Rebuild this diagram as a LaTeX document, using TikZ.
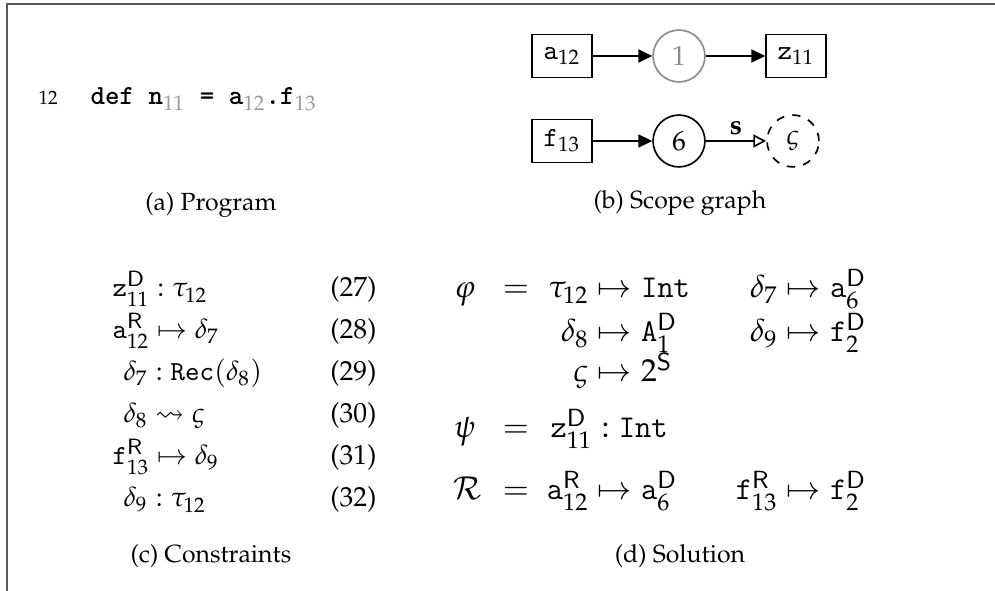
\documentclass[tikz,border=0pt]{standalone}
\usepackage[T1]{fontenc}
\usepackage{mathpazo}
\usepackage{amsmath,amssymb}
\usetikzlibrary{arrows.meta,positioning}
\newcommand\ttf{\fontencoding{TU}\fontfamily{lmtt}\selectfont}
\def\dD{\mathsf{D}}
\def\dR{\mathsf{R}}
\def\dS{\mathsf{S}}
\def\tta#1{\text{\ttf #1}}
\def\kw#1{{\ttf\bfseries #1}}
\def\gsub#1{$_{\color{black!40}#1}$}

\begin{document}
\begin{tikzpicture}[x=0.3623pt,y=-0.3623pt,
  declbox/.style={draw,semithick,minimum width=21.7pt,minimum height=15.6pt,inner sep=1pt},
  scopenode/.style={draw,semithick,circle,minimum size=18.8pt,inner sep=0pt},
  edgeto/.style={semithick,-{Triangle[length=5pt,width=4.7pt]}},
  edgelbl/.style={semithick,-{Triangle[open,length=4.7pt,width=4.7pt]}},
  eqn/.style={anchor=base west,inner sep=0pt},
  eqno/.style={anchor=base east,inner sep=0pt},
  sol/.style={inner sep=0pt,font=\fontsize{11.5}{14}\selectfont},
  captxt/.style={anchor=base,font=\small}]
%\draw[help lines] (0,0) grid[step=50] (995,591);
\useasboundingbox (0,0) rectangle (995,591);
\draw[line width=0.8pt,black!65] (7,591) -- (7,4) -- (995,4);

% (a) program
\node[anchor=base west,inner sep=0pt,font=\scriptsize] (lineno) at (38,105) {12};
\node[anchor=base west,inner sep=0pt] (code) at (90,105)
  {\kw{def n}\gsub{11}\kw{ = a}\gsub{12}\kw{.f}\gsub{13}};
\node[captxt] (capa) at (211,211) {(a) Program};

% (b) scope graph
\node[declbox] (a12) at (562,56) {$\tta{a}_{12}$};
\node[scopenode,black!45] (s1) at (679,56) {1};
\node[declbox] (z11) at (796,56) {$\tta{z}_{11}$};
\node[declbox] (f13) at (562,141) {$\tta{f}_{13}$};
\node[scopenode] (s6) at (679,141) {6};
\node[scopenode,dashed] (vs) at (793,141) {$\varsigma$};
\draw[edgeto] (a12) -- (s1);
\draw[edgeto] (s1) -- (z11);
\draw[edgeto] (f13) -- (s6);
\draw[edgelbl] (s6) -- node[above,inner sep=2pt] {\textbf{s}} (vs);
\node[captxt] (capb) at (680,209) {(b) Scope graph};

% (c) constraints
\node[eqn] (c1) at (112,297) {$\tta{z}^{\dD}_{11} : \tau_{12}$};
\node[eqn] (c2) at (112,339) {$\tta{a}^{\dR}_{12} \mapsto \delta_7$};
\node[eqn] (c3) at (123,381) {$\delta_7 : \tta{Rec}(\delta_8)$};
\node[eqn] (c4) at (123,423) {$\delta_8 \leadsto \varsigma$};
\node[eqn] (c5) at (112,465) {$\tta{f}^{\dR}_{13} \mapsto \delta_9$};
\node[eqn] (c6) at (123,507) {$\delta_9 : \tau_{12}$};
\node[eqno] (n1) at (377,297) {(27)};
\node[eqno] (n2) at (377,339) {(28)};
\node[eqno] (n3) at (377,381) {(29)};
\node[eqno] (n4) at (377,423) {(30)};
\node[eqno] (n5) at (377,465) {(31)};
\node[eqno] (n6) at (377,507) {(32)};
\node[captxt] (capc) at (211,563) {(c) Constraints};

% (d) solution, mapsto arrows start at x=597 and x=786
\node[sol,anchor=base] (phi) at (465,298) {$\varphi$};
\node[sol,anchor=base] (eqphi) at (516,298) {$=$};
\node[sol,eqn] (m1) at (597,298) {\llap{$\tau_{12}\;$}$\mapsto\tta{Int}$};
\node[sol,eqn] (m2) at (786,298) {\llap{$\delta_7\;$}$\mapsto\tta{a}^{\dD}_6$};
\node[sol,eqn] (m3) at (597,342) {\llap{$\delta_8\;$}$\mapsto\tta{A}^{\dD}_1$};
\node[sol,eqn] (m4) at (786,342) {\llap{$\delta_9\;$}$\mapsto\tta{f}^{\dD}_2$};
\node[sol,eqn] (m5) at (597,382) {\llap{$\varsigma\;$}$\mapsto 2^{\dS}$};
\node[sol,anchor=base] (psi) at (465,438) {$\psi$};
\node[sol,anchor=base] (eqpsi) at (516,438) {$=$};
\node[sol,eqn] (p1) at (550,438) {$\tta{z}^{\dD}_{11} : \tta{Int}$};
\node[sol,anchor=base] (rr) at (468,500) {$\mathcal{R}$};
\node[sol,anchor=base] (eqrr) at (516,500) {$=$};
\node[sol,eqn] (r1) at (597,500) {\llap{$\tta{a}^{\dR}_{12}\;$}$\mapsto\tta{a}^{\dD}_6$};
\node[sol,eqn] (r2) at (786,500) {\llap{$\tta{f}^{\dR}_{13}\;$}$\mapsto\tta{f}^{\dD}_2$};
\node[captxt] (capd) at (680,563) {(d) Solution};
\end{tikzpicture}
\end{document}
